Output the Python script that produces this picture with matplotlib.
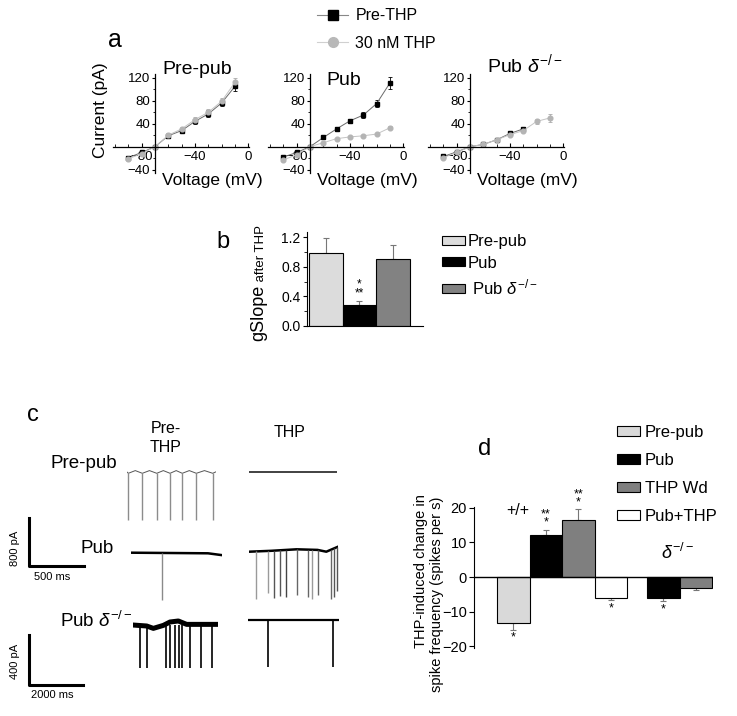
import numpy as np
import matplotlib
matplotlib.use('Agg')
import matplotlib.pyplot as plt
from matplotlib.lines import Line2D
from matplotlib.patches import Patch

plt.rcParams['font.family'] = ['Liberation Sans', 'DejaVu Sans']
plt.rcParams['mathtext.fontset'] = 'custom'
plt.rcParams['mathtext.rm'] = 'Liberation Sans'
plt.rcParams['mathtext.it'] = 'Liberation Sans:italic'

W, H = 737, 716
DELTA = r'$\delta^{-/-}$'

# ---- a: I-V curves (mV, pA)
volt = [-90, -80, -70, -60, -50, -40, -30, -20, -10]
prepub_pre = [-19, -10, 0, 19, 28, 44, 57, 76, 105]
prepub_pre_err = [2, 2, 0, 3, 3, 5, 6, 6, 8]
prepub_thp = [-21, -12, 0, 20, 31, 47, 60, 79, 112]
prepub_thp_err = [2, 2, 0, 3, 3, 4, 5, 6, 8]
pub_pre = [-18, -10, 0, 16, 31, 45, 55, 75, 111]
pub_pre_err = [2, 2, 0, 2, 3, 4, 5, 6, 10]
pub_thp = [-23, -14, 0, 7, 14, 17, 19, 22, 33]
pub_thp_err = [2, 2, 0, 1, 1, 1, 1, 2, 3]
delta_volt_pre = [-90, -80, -70, -60, -50, -40, -30]
delta_pre = [-17, -9, 0, 4, 12, 23, 31]
delta_pre_err = [2, 2, 0, 2, 2, 3, 4]
delta_thp = [-19, -10, 0, 4, 12, 21, 28, 44, 50]
delta_thp_err = [2, 2, 0, 2, 2, 2, 3, 4, 7]

# ---- b: slope conductance after THP
b_groups = ['Pre-pub', 'Pub', ' Pub ' + DELTA]
gslope = [0.99, 0.28, 0.90]
gslope_err = [0.20, 0.06, 0.19]
b_colors = ['#dcdcdc', 'black', '#828282']

# ---- c: example recordings (ms, pA)
prepub_pre_dur = 812
prepub_pre_spikes = [15, 142, 273, 394, 505, 633, 782]
prepub_pre_amp = 770
prepub_pre_base_t = [0, 15, 78, 142, 207, 273, 333, 394, 450, 505, 569, 633, 707, 782, 812]
prepub_pre_base_i = [25, 0, 45, 0, 45, 0, 45, 0, 45, 0, 45, 0, 45, 0, 25]
prepub_thp_dur = 800
pub_pre_dur = 824
pub_pre_spikes = [285]
pub_pre_amp = [790]
pub_pre_base_t = [0, 700, 824]
pub_pre_base_i = [0, -10, -40]
pub_thp_dur = 809
pub_thp_spikes = [61, 167, 225, 279, 331, 436, 531, 567, 622, 743, 773, 800]
pub_thp_amp = [795, 705, 795, 760, 785, 755, 790, 825, 755, 815, 810, 740]
pub_thp_base_t = [0, 200, 430, 620, 700, 809]
pub_thp_base_i = [0, 15, 40, 30, 0, 85]
delta_pre_dur = 3170
delta_pre_spikes = [270, 518, 1221, 1380, 1565, 1724, 1824, 2120, 2516, 2923]
delta_pre_amp = 345
delta_pre_base_t = [0, 518, 765, 1135, 1381, 1690, 1998, 3170]
delta_pre_base_i = [0, -8, -27, -3, 24, 32, 5, 5]
delta_thp_dur = 3367
delta_thp_spikes = [718, 3145]
delta_thp_amp = 373
scale_top = (500, 800)
scale_bot = (2000, 400)

# ---- d: THP-induced change in spike frequency
d_labels = ['Pre-pub', 'Pub', 'THP Wd', 'Pub+THP']
d_colors = ['#d9d9d9', 'black', '#7f7f7f', 'white']
d_pos = [1.21, 2.21, 3.21, 4.21, 5.82, 6.82]
d_vals = [-13.2, 12.1, 16.5, -6.0, -5.9, -3.2]
d_err = [2.0, 1.5, 3.0, 0.6, 1.1, 0.4]
d_bar_colors = ['#d9d9d9', 'black', '#7f7f7f', 'white', 'black', '#7f7f7f']
d_stars = ['*', '**\n*', '**\n*', '*', '*', '']


def box(x0, y0, x1, y1):
    return [x0 / W, 1 - y1 / H, (x1 - x0) / W, (y1 - y0) / H]


def fp(x, y):
    return (x / W, 1 - y / H)


fig = plt.figure(figsize=(W / 100, H / 100), dpi=100)

# ================= panel a
iv = [
    ('Pre-pub', 113, volt, prepub_pre, prepub_pre_err, prepub_thp, prepub_thp_err),
    ('Pub', 268, volt, pub_pre, pub_pre_err, pub_thp, pub_thp_err),
    ('Pub ' + DELTA, 428, delta_volt_pre, delta_pre, delta_pre_err, delta_thp, delta_thp_err),
]
for title, left, vpre, pre, pre_err, thp, thp_err in iv:
    ax = fig.add_axes(box(left, 74.2, left + 136, 172.6))
    ax.patch.set_visible(False)
    ax.set_xlim(-101.5, 0.5)
    ax.set_ylim(-45, 126)
    for s in ['top', 'right']:
        ax.spines[s].set_visible(False)
    ax.spines['left'].set_position(('data', -70))
    ax.spines['bottom'].set_position(('data', 0))
    ax.spines['left'].set_linewidth(0.9)
    ax.spines['bottom'].set_linewidth(0.9)
    ax.errorbar(vpre, pre, yerr=pre_err, fmt='-s', color='#6a6a6a', lw=0.7,
                mfc='black', mec='black', ms=3.2, ecolor='black',
                elinewidth=0.6, capsize=1.5, capthick=0.6)
    ax.errorbar(volt, thp, yerr=thp_err, fmt='-o', color='#c4c4c4', lw=0.7,
                mfc='#b4b4b4', mec='#b4b4b4', ms=3.4, ecolor='#aaaaaa',
                elinewidth=0.6, capsize=1.5, capthick=0.6)
    ax.set_xticks([-80, -40, 0])
    ax.set_xticklabels(['\u221280', '\u221240', '0'])
    ax.set_xticks(np.arange(-100, 0, 10), minor=True)
    ax.set_yticks([-40, 40, 80, 120])
    ax.set_yticklabels(['\u221240', '40', '80', '120'])
    ax.set_yticks([-20, 20, 60, 100], minor=True)
    ax.tick_params(axis='x', which='major', direction='in', length=3, width=0.8,
                   labelsize=9.5, pad=3)
    ax.tick_params(axis='x', which='minor', direction='in', length=2, width=0.6)
    ax.tick_params(axis='y', which='major', direction='out', length=2.5, width=0.8,
                   labelsize=9.5, pad=1)
    ax.tick_params(axis='y', which='minor', direction='out', length=1.5, width=0.6)
    ax.text(0.73, -0.085, 'Voltage (mV)', transform=ax.transAxes, fontsize=12.5,
            ha='center', va='center')

fig.text(*fp(197, 73.5), 'Pre-pub', fontsize=14, ha='center', va='baseline')
fig.text(*fp(344, 85), 'Pub', fontsize=14, ha='center', va='baseline')
fig.text(*fp(487, 72), 'Pub ' + DELTA, fontsize=14, ha='left', va='baseline')
fig.text(*fp(100, 110), 'Current (pA)', fontsize=12.5, rotation=90,
         ha='center', va='center')
fig.text(*fp(115, 47), 'a', fontsize=18, ha='center', va='baseline')

leg_a = [Line2D([], [], color='#888888', lw=0.8, marker='s', mfc='black', mec='black', ms=6.5),
         Line2D([], [], color='#d0d0d0', lw=0.8, marker='o', mfc='#b8b8b8', mec='#b8b8b8', ms=7)]
fig.legend(leg_a, ['Pre-THP', '30 nM THP'], loc='upper left', bbox_to_anchor=fp(317, 8.5),
           frameon=False, fontsize=11.5, handlelength=1.95, handletextpad=0.45,
           labelspacing=0.78, borderpad=0, borderaxespad=0, numpoints=1)

# ================= panel b
axb = fig.add_axes(box(307, 231.8, 423, 325.7))
b_pos = np.arange(len(gslope)) + 0.56
axb.bar(b_pos, gslope, width=1, color=b_colors, edgecolor='black', lw=0.8, zorder=2)
axb.errorbar(b_pos, gslope, yerr=[np.zeros(len(gslope)), gslope_err], fmt='none',
             ecolor='#777777', elinewidth=0.8, capsize=2, capthick=0.8, zorder=1)
axb.set_xlim(0, 3.46)
axb.set_ylim(0, 1.276)
for s in ['top', 'right']:
    axb.spines[s].set_visible(False)
axb.set_xticks([])
axb.set_yticks([0, 0.4, 0.8, 1.2])
axb.set_yticks([0.2, 0.6, 1.0], minor=True)
axb.yaxis.set_major_formatter('{x:.1f}')
axb.tick_params(axis='y', which='major', length=3, width=0.8, labelsize=10, pad=1.5)
axb.tick_params(axis='y', which='minor', length=2, width=0.6)
axb.text(b_pos[1], gslope[1] + gslope_err[1] + 0.02, '*\n**', ha='center', va='bottom',
         fontsize=8.5, linespacing=0.62)

t1 = fig.text(*fp(259, 341), 'gSlope', fontsize=13, rotation=90, ha='center', va='bottom')
axb.annotate(' after THP', xy=(1, 1), xycoords=t1, rotation=90, fontsize=9.5,
             ha='right', va='bottom', annotation_clip=False)
fig.text(*fp(223, 248), 'b', fontsize=17, ha='center', va='baseline')

leg_b = [Patch(facecolor=c, edgecolor='black', lw=0.8) for c in b_colors]
fig.legend(leg_b, b_groups, loc='upper left',
           bbox_to_anchor=fp(442, 234), frameon=False, fontsize=12,
           handlelength=1.38, handleheight=0.45, handletextpad=0.15,
           labelspacing=0.4, borderpad=0, borderaxespad=0)

# ================= panel c
def trace_axes(x0, y0, dur, ms_px, pa_px, above=15, below=55):
    ax = fig.add_axes(box(x0, y0 - above, x0 + dur / ms_px, y0 + below))
    ax.set_xlim(0, dur)
    ax.set_ylim(-below * pa_px, above * pa_px)
    ax.axis('off')
    return ax


top_ms = scale_top[0] / 55
top_pa = scale_top[1] / 48
bot_ms = scale_bot[0] / 54
bot_pa = scale_bot[1] / 50

# Pre-pub, pre-THP
ax = trace_axes(126.7, 473.3, prepub_pre_dur, top_ms, top_pa)
ax.plot(prepub_pre_base_t, prepub_pre_base_i, color='#555555', lw=0.7)
ax.vlines(prepub_pre_spikes, -prepub_pre_amp, 0, color='#8c8c8c', lw=1.0)
# Pre-pub, THP
ax = trace_axes(249.3, 472.3, prepub_thp_dur, top_ms, top_pa)
ax.plot([0, prepub_thp_dur], [0, 0], color='#333333', lw=1.3)
# Pub, pre-THP
ax = trace_axes(131, 552.7, pub_pre_dur, top_ms, top_pa)
ax.plot(pub_pre_base_t, pub_pre_base_i, color='black', lw=1.8)
ax.vlines(pub_pre_spikes, -np.array(pub_pre_amp), 0, color='#8a8a8a', lw=1.0)
# Pub, THP
ax = trace_axes(249.3, 551.7, pub_thp_dur, top_ms, top_pa)
ax.plot(pub_thp_base_t, pub_thp_base_i, color='black', lw=1.8)
base_at = np.interp(pub_thp_spikes, pub_thp_base_t, pub_thp_base_i)
spk_cols = ['#9a9a9a', '#9a9a9a', '#555555', '#555555', '#444444', '#666666',
            '#666666', '#9a9a9a', '#666666', '#666666', '#555555', '#555555']
ax.vlines(pub_thp_spikes, base_at - np.array(pub_thp_amp), base_at, colors=spk_cols,
          lw=1.0, clip_on=False)
# Pub delta, pre-THP
ax = trace_axes(132.7, 625, delta_pre_dur, bot_ms, bot_pa)
ax.vlines(delta_pre_spikes, -delta_pre_amp, 0, color='black', lw=1.2)
ax.plot(delta_pre_base_t, delta_pre_base_i, color='black', lw=3.6)
# Pub delta, THP
ax = trace_axes(248.3, 620, delta_thp_dur, bot_ms, bot_pa)
ax.plot([0, delta_thp_dur], [0, 0], color='black', lw=1.6)
ax.vlines(delta_thp_spikes, -delta_thp_amp, 0, color='black', lw=1.2, clip_on=False)

# scale bars
for (t_len, i_len), (x0, y0, y1), ms_px in [(scale_top, (29, 518, 566), top_ms),
                                             (scale_bot, (29, 635, 685), bot_ms)]:
    ax = fig.add_axes(box(x0, y0, x0 + t_len / ms_px, y1))
    ax.set_xlim(0, t_len)
    ax.set_ylim(0, i_len)
    ax.plot([0, 0, t_len], [i_len, 0, 0], color='black', lw=2.2, clip_on=False,
            solid_capstyle='projecting')
    ax.axis('off')

fig.text(*fp(15, 548), '%d pA' % scale_top[1], fontsize=8, rotation=90, ha='center', va='center')
fig.text(*fp(52, 577), '%d ms' % scale_top[0], fontsize=8, ha='center', va='center')
fig.text(*fp(15, 661), '%d pA' % scale_bot[1], fontsize=8, rotation=90, ha='center', va='center')
fig.text(*fp(52, 695), '%d ms' % scale_bot[0], fontsize=8, ha='center', va='center')

fig.text(*fp(33, 421), 'c', fontsize=17, ha='center', va='baseline')
fig.text(*fp(166, 433), 'Pre-', fontsize=11.5, ha='center', va='baseline')
fig.text(*fp(166, 451.7), 'THP', fontsize=11.5, ha='center', va='baseline')
fig.text(*fp(290, 436.7), 'THP', fontsize=11.5, ha='center', va='baseline')
fig.text(*fp(84, 468), 'Pre-pub', fontsize=13.5, ha='center', va='baseline')
fig.text(*fp(97, 553), 'Pub', fontsize=13.5, ha='center', va='baseline')
fig.text(*fp(60, 627), 'Pub ' + DELTA, fontsize=13.5, ha='left', va='baseline')

# ================= panel d
axd = fig.add_axes(box(474, 506.6, 713, 647.5))
axd.patch.set_visible(False)
axd.bar(d_pos, d_vals, width=1, color=d_bar_colors, edgecolor='black', lw=0.8, zorder=2)
lower = [e if v < 0 else 0 for v, e in zip(d_vals, d_err)]
upper = [e if v > 0 else 0 for v, e in zip(d_vals, d_err)]
axd.errorbar(d_pos, d_vals, yerr=[lower, upper], fmt='none', ecolor='#777777',
             elinewidth=0.8, capsize=2, capthick=0.8, zorder=1)
axd.axhline(0, color='black', lw=1.0, zorder=3)
axd.set_xlim(0, 7.35)
axd.set_ylim(-20.3, 20.3)
for s in ['top', 'right', 'bottom']:
    axd.spines[s].set_visible(False)
axd.set_xticks([])
axd.set_yticks([-20, -10, 0, 10, 20])
axd.set_yticklabels(['\u221220', '\u221210', '0', '10', '20'])
axd.tick_params(axis='y', length=3.5, width=0.8, labelsize=10.5, pad=1.5)
for x, v, e, st in zip(d_pos, d_vals, d_err, d_stars):
    if not st:
        continue
    if v > 0:
        axd.text(x, v + e + 0.3, st, ha='center', va='bottom', fontsize=9,
                 linespacing=0.55, clip_on=False)
    else:
        axd.text(x, v - e - 0.6, st, ha='center', va='top', fontsize=9, clip_on=False)
axd.text(1.35, 19.3, '+/+', ha='center', va='center', fontsize=11.5)
axd.text(6.25, 6.9, DELTA, ha='center', va='center', fontsize=13)

fig.text(*fp(421, 571), 'THP-induced change in', fontsize=10.5, rotation=90,
         ha='center', va='center')
fig.text(*fp(437, 594), 'spike frequency (spikes per s)', fontsize=10.5, rotation=90,
         ha='center', va='center')
fig.text(*fp(485, 455), 'd', fontsize=17, ha='center', va='baseline')

leg_d = [Patch(facecolor=c, edgecolor='black', lw=0.8) for c in d_colors]
fig.legend(leg_d, d_labels, loc='upper left', bbox_to_anchor=fp(617, 425),
           frameon=False, fontsize=12, handlelength=1.38, handleheight=0.5,
           handletextpad=0.3, labelspacing=0.78, borderpad=0, borderaxespad=0)

fig.savefig('out.png', dpi=100)
